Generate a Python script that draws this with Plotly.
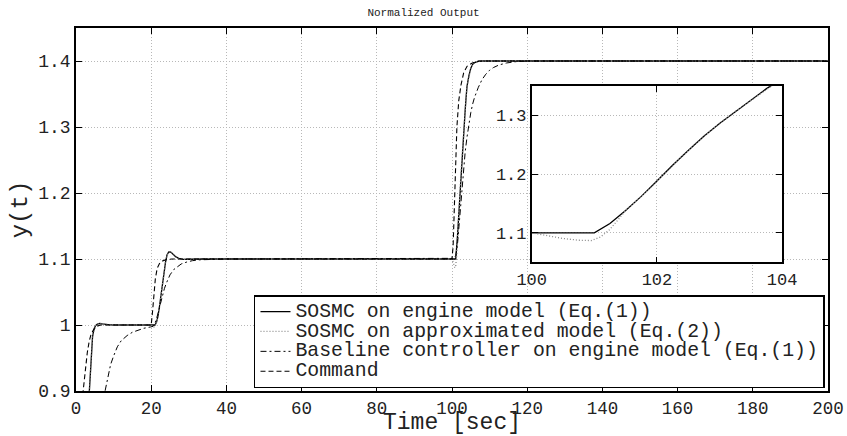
import plotly.graph_objects as go

# ---------------- data ----------------
t_eng = [0, 3.0, 3.5, 4.0, 4.4, 4.8, 5.2, 5.7, 6.3, 7.0, 7.8, 9.0, 10.5,
         21.0, 21.4, 21.8, 22.2, 22.6, 23.0, 23.4, 23.8, 24.2, 24.7, 25.2, 25.8,
         26.5, 27.3, 28.5, 30.5, 34.0,
         101.0, 101.25, 101.5, 101.75, 102.0, 102.25, 102.5, 102.75, 103.0,
         103.25, 103.5, 103.75, 104.0, 104.5, 105.0, 105.5, 106.2, 107.0, 108.0, 200.0]
y_eng = [0.60, 0.83, 0.895, 0.952, 0.982, 0.994, 0.999, 1.0015, 1.0025, 1.0018, 1.0008, 1.0001, 1.0,
         1.0, 1.004, 1.013, 1.028, 1.047, 1.064, 1.079, 1.095, 1.106, 1.111, 1.1105, 1.107,
         1.1035, 1.101, 1.0995, 1.0996, 1.1,
         1.100, 1.116, 1.138, 1.162, 1.188, 1.215, 1.240, 1.264, 1.286,
         1.306, 1.325, 1.345, 1.362, 1.378, 1.389, 1.395, 1.398, 1.3995, 1.4, 1.4]

t_apx = [0, 3.0, 3.5, 4.0, 4.4, 4.8, 5.2, 5.7, 6.3, 7.0, 7.8, 9.0, 10.5,
         20.0, 20.5, 21.0, 21.4, 21.8, 22.2, 22.6, 23.0, 23.4, 23.8, 24.2, 24.7, 25.2, 25.8,
         26.5, 27.3, 28.5, 30.5, 34.0,
         100.0, 100.25, 100.5, 100.75, 100.95, 101.1, 101.25, 101.4, 101.5, 101.75, 102.0,
         102.25, 102.5, 102.75, 103.0, 103.25, 103.5, 103.75, 104.0, 104.5, 105.0, 105.5,
         106.2, 107.0, 108.0, 200.0]
y_apx = [0.60, 0.83, 0.895, 0.952, 0.982, 0.994, 0.999, 1.0015, 1.0025, 1.0018, 1.0008, 1.0001, 1.0,
         1.0, 0.997, 0.997, 1.004, 1.013, 1.028, 1.047, 1.064, 1.079, 1.095, 1.106, 1.111, 1.1105, 1.107,
         1.1035, 1.101, 1.0995, 1.0996, 1.1,
         1.100, 1.095, 1.0905, 1.0875, 1.087, 1.093, 1.106, 1.125, 1.138, 1.162, 1.188,
         1.215, 1.240, 1.264, 1.286, 1.306, 1.325, 1.345, 1.362, 1.378, 1.389, 1.395,
         1.398, 1.3995, 1.4, 1.4]

t_base = [0, 6.0, 7.0, 7.7, 8.5, 9.2, 10.0, 11.0, 12.0, 13.6, 15.0, 16.3, 18.0, 19.8,
          20.5, 21.0, 21.5, 22.0, 22.5, 23.0, 23.5, 24.0, 24.5, 25.0, 26.0, 27.0, 28.0,
          29.5, 31.0, 33.0, 36.0, 40.0,
          100.5, 101.0, 101.5, 102.0, 102.5, 103.0, 103.5, 104.0, 104.5, 105.0, 105.5,
          106.0, 107.0, 108.0, 109.0, 110.0, 111.0, 112.5, 114.5, 117.0, 120.0, 200.0]
y_base = [0.50, 0.85, 0.88, 0.90, 0.922, 0.94, 0.953, 0.967, 0.976, 0.984, 0.989, 0.992, 0.995, 0.997,
          0.998, 1.002, 1.010, 1.021, 1.033, 1.045, 1.055, 1.063, 1.070, 1.076, 1.084, 1.089, 1.0925,
          1.0955, 1.0975, 1.0988, 1.0996, 1.1,
          1.101, 1.105, 1.125, 1.160, 1.200, 1.235, 1.262, 1.285, 1.305, 1.322, 1.335,
          1.345, 1.360, 1.372, 1.380, 1.386, 1.390, 1.394, 1.397, 1.399, 1.4, 1.4]

t_cmd = [0, 1.0, 1.9, 2.5, 3.0, 3.5, 4.0, 4.7, 5.5, 6.5,
         20.0, 20.35, 20.7, 21.1, 21.6, 22.2, 23.0, 24.0, 25.5,
         100.0, 100.3, 100.6, 100.9, 101.3, 101.8, 102.4, 103.1, 104.0, 105.4, 107.0, 200.0]
y_cmd = [0.70, 0.82, 0.90, 0.935, 0.958, 0.975, 0.986, 0.993, 0.998, 1.0,
         1.0, 1.02, 1.043, 1.07, 1.086, 1.093, 1.097, 1.099, 1.1,
         1.1, 1.12, 1.18, 1.245, 1.30, 1.34, 1.364, 1.382, 1.392, 1.397, 1.4, 1.4]

names = ["SOSMC on engine model (Eq.(1))",
         "SOSMC on approximated model (Eq.(2))",
         "Baseline controller on engine model (Eq.(1))",
         "Command"]

x_ticks_inset = [100, 102, 104]
y_ticks_inset = [1.1, 1.2, 1.3]

FONT = "Liberation Mono, Courier New, monospace"
LEG_TXT = '<span style="font-size:19.8px">{}</span>'

sty_eng = dict(color="black", width=1.3)
sty_apx = dict(color="#8a8a8a", width=1.3, dash="1px,2px")
sty_base = dict(color="black", width=1.0, dash="6px,3px,2px,3px")
sty_cmd = dict(color="black", width=1.1, dash="5px,3px")

fig = go.Figure()
for t, y, nm, sty in [(t_eng, y_eng, names[0], sty_eng),
                      (t_apx, y_apx, names[1], sty_apx),
                      (t_base, y_base, names[2], sty_base),
                      (t_cmd, y_cmd, names[3], sty_cmd)]:
    fig.add_trace(go.Scatter(x=t, y=y, mode="lines", name=LEG_TXT.format(nm), line=sty))

# inset
fig.add_trace(go.Scatter(x=t_eng, y=y_eng, mode="lines", line=sty_eng,
                         showlegend=False, xaxis="x2", yaxis="y2"))
fig.add_trace(go.Scatter(x=t_apx, y=y_apx, mode="lines", line=sty_apx,
                         showlegend=False, xaxis="x2", yaxis="y2"))

grid = dict(showgrid=True, gridcolor="#b8b8b8", griddash="1px,2px", gridwidth=1,
            showline=True, linecolor="black", linewidth=1.6, mirror="ticks",
            ticks="inside", ticklen=6, tickcolor="black", zeroline=False)

fig.update_layout(
    width=847, height=436,
    margin=dict(l=76, r=19, t=28, b=45),
    paper_bgcolor="white", plot_bgcolor="#ffffff",
    font=dict(family=FONT, color="#222"),
    title=dict(text="Normalized Output", x=0.5, xanchor="center", xref="container",
               y=1 - 12 / 436, yanchor="middle", yref="container",
               font=dict(size=11, family=FONT, color="#222")),
    xaxis=dict(range=[0, 200], tick0=0, dtick=20, tickfont=dict(size=17.5),
               title=dict(text="Time [sec]", font=dict(size=23), standoff=2),
               automargin=False, **grid),
    yaxis=dict(range=[0.9, 1.45], tick0=0.9, dtick=0.1, tickfont=dict(size=18),
               title=dict(text="y(t)", font=dict(size=24), standoff=4),
               automargin=False, **grid),
    xaxis2=dict(domain=[0.606, 0.939], anchor="y2", range=[100, 104],
                tickvals=x_ticks_inset, tickfont=dict(size=17), automargin=False, **grid),
    yaxis2=dict(domain=[0.3545, 0.841], anchor="x2", range=[1.05, 1.35],
                tickvals=y_ticks_inset, tickfont=dict(size=17), automargin=False, **grid),
    legend=dict(x=0.996, xanchor="right", y=0.008, yanchor="bottom",
                bgcolor="white", bordercolor="black", borderwidth=1.5,
                font=dict(size=13, family=FONT, color="#222"),
                itemwidth=30, tracegroupgap=0),
    showlegend=True,
)

fig.write_html("out.html")
